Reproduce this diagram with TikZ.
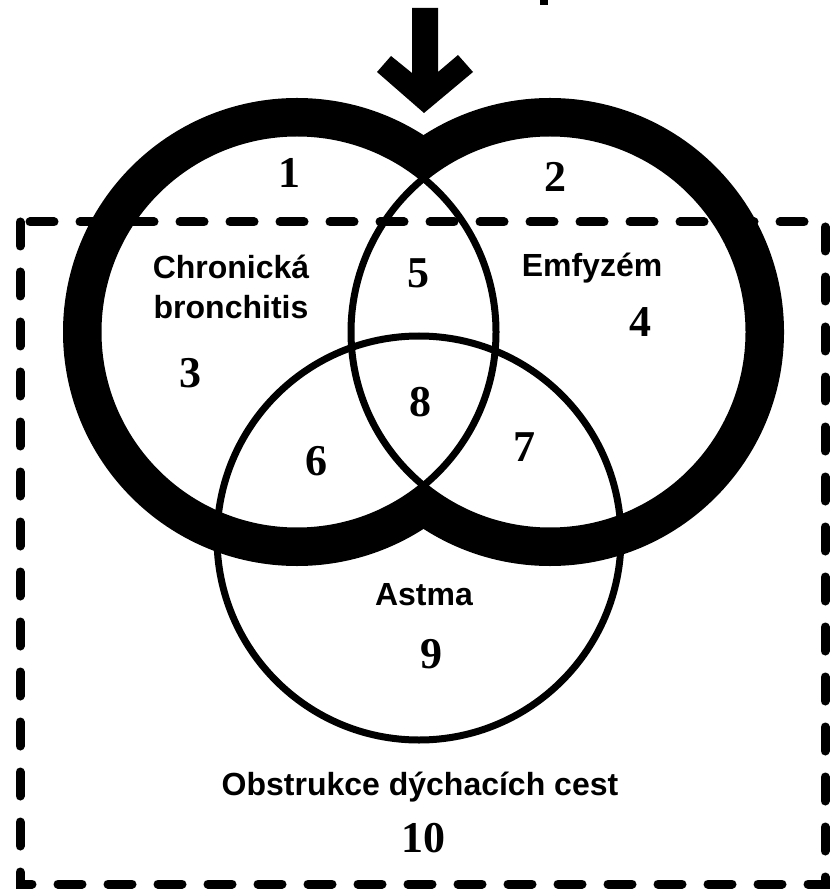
\documentclass[tikz,border=0pt]{standalone}
\usepackage{fontspec}
\setmainfont{Liberation Serif}
\newfontfamily\labelfont{Liberation Sans}
\usepackage{tikz}
\usetikzlibrary{positioning}

\tikzset{
  num/.style={font=\bfseries\fontsize{22}{22}\selectfont, inner sep=0pt},
  lbl/.style={font=\labelfont\bfseries\fontsize{16}{20}\selectfont, inner sep=0pt, align=center},
  thinring/.style={line width=3.5pt},
  dashbox/.style={line width=4.5pt, line cap=round, dash pattern=on 12pt off 13pt},
}

\begin{document}
\begin{tikzpicture}[x=0.5pt, y=-0.5pt]
    \useasboundingbox (0,0) rectangle (830,892);

    % stredy kruhu
    \coordinate (cb) at (297,332);
    \coordinate (em) at (550,332);
    \coordinate (as) at (419,538);

    % tlusty obrys sjednoceni
    \fill[black] (cb) circle (234); \fill[black] (em) circle (234);
    \fill[white] (cb) circle (199); \fill[white] (em) circle (199);

    % tenke kruznice
    \draw[thinring] (cb) circle (199);
    \draw[thinring] (em) circle (199);
    \draw[thinring] (as) circle (202);

    % ramecek obstrukce
    \draw[dashbox] (20,222) rectangle (825,884);

    % sipka
    \fill[black] (412,8) -- (438,8) -- (438,72) -- (458,55) -- (473,72) -- (424,113)
        -- (377,72) -- (391,56) -- (412,73) -- cycle;
    \fill[black] (540,0) rectangle (548,5);

    % popisky
    \node[lbl] (lblCB) at (231,287) {Chronická\\bronchitis};
    \node[lbl, anchor=base] (lblEm) at (592,277) {Emfyzém};
    \node[lbl, anchor=base] (lblAs) at (424,605) {Astma};
    \node[lbl, anchor=base] (lblOb) at (420,795) {Obstrukce dýchacích cest};

    % cisla oblasti
    \node[num] (r1) at (289,173) {1};
    \node[num] (r2) at (555,177) {2};
    \node[num] (r3) at (190,373) {3};
    \node[num] (r4) at (640,322) {4};
    \node[num] (r5) at (418,273) {5};
    \node[num] (r6) at (316,461) {6};
    \node[num] (r7) at (524,447) {7};
    \node[num] (r8) at (420,402) {8};
    \node[num] (r9) at (431,654) {9};
    \node[num] (r10) at (423,838) {10};
\end{tikzpicture}
\end{document}
